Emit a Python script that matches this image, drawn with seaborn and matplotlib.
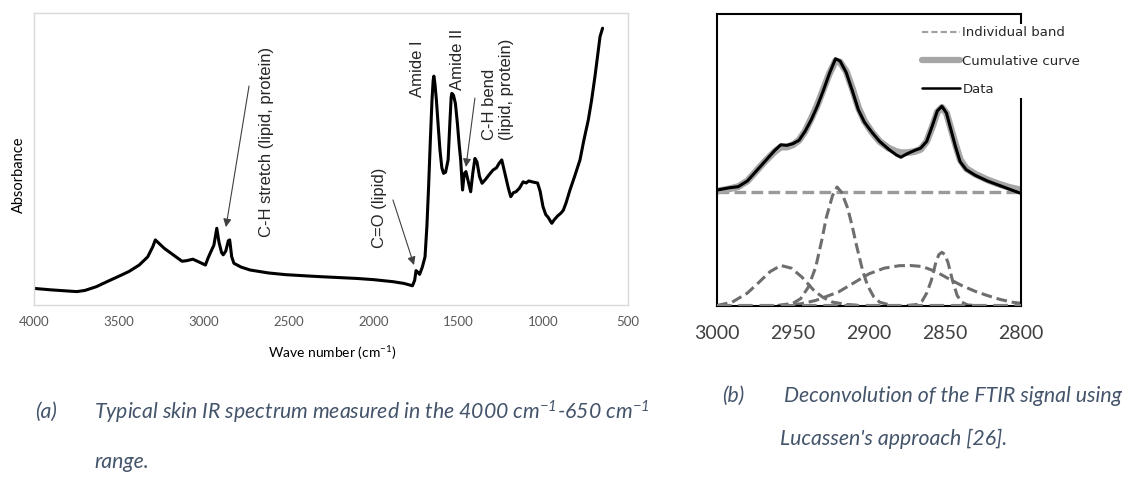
import matplotlib
matplotlib.use("Agg")
import matplotlib.pyplot as plt
from matplotlib.lines import Line2D
import seaborn as sns

# (a) skin IR spectrum
ir_wavenumber = [4000, 3900, 3800, 3748, 3700, 3632, 3570, 3506, 3440, 3380, 3330, 3300, 3285,
                 3265, 3232, 3180, 3128, 3100, 3064, 3030, 2990, 2975, 2960, 2940, 2923, 2910,
                 2895, 2885, 2870, 2855, 2847, 2835, 2822, 2780, 2727, 2620, 2517, 2400, 2307,
                 2200, 2097, 2000, 1885, 1820, 1770, 1757, 1749, 1738, 1728, 1712, 1696, 1685,
                 1675, 1665, 1655, 1648, 1644, 1638, 1629, 1618, 1608, 1597, 1587, 1575, 1560,
                 1550, 1542, 1538, 1528, 1517, 1505, 1495, 1486, 1475, 1465, 1455, 1440, 1427,
                 1415, 1402, 1390, 1375, 1360, 1340, 1320, 1296, 1275, 1260, 1244, 1225, 1205,
                 1191, 1175, 1160, 1140, 1118, 1100, 1085, 1066, 1050, 1033, 1018, 1001, 985,
                 970, 955, 949, 935, 915, 895, 881, 865, 842, 815, 783, 760, 734, 715, 695,
                 680, 665, 650]
ir_absorbance = [0.057, 0.052, 0.048, 0.046, 0.050, 0.063, 0.080, 0.097, 0.115, 0.137, 0.165,
                 0.200, 0.223, 0.212, 0.194, 0.172, 0.150, 0.152, 0.157, 0.148, 0.137, 0.160,
                 0.180, 0.205, 0.263, 0.215, 0.180, 0.172, 0.185, 0.220, 0.223, 0.165, 0.143,
                 0.130, 0.120, 0.110, 0.104, 0.100, 0.097, 0.094, 0.091, 0.087, 0.080, 0.074,
                 0.066, 0.085, 0.118, 0.112, 0.105, 0.130, 0.165, 0.270, 0.405, 0.560, 0.702,
                 0.770, 0.784, 0.760, 0.702, 0.610, 0.531, 0.470, 0.451, 0.455, 0.497, 0.620,
                 0.712, 0.725, 0.718, 0.690, 0.620, 0.550, 0.497, 0.394, 0.450, 0.457, 0.420,
                 0.388, 0.450, 0.502, 0.490, 0.440, 0.417, 0.430, 0.445, 0.462, 0.470, 0.485,
                 0.497, 0.450, 0.400, 0.371, 0.385, 0.388, 0.400, 0.422, 0.418, 0.425, 0.422,
                 0.420, 0.418, 0.390, 0.337, 0.310, 0.300, 0.285, 0.280, 0.292, 0.305, 0.315,
                 0.325, 0.350, 0.394, 0.440, 0.497, 0.565, 0.634, 0.700, 0.782, 0.850, 0.919,
                 0.948]
xticks_a = [4000, 3500, 3000, 2500, 2000, 1500, 1000, 500]

# (b) deconvolution of the C-H stretch region
data_wn = [3000, 2992, 2986, 2980, 2974, 2968, 2962, 2958, 2954, 2950, 2946, 2942, 2938, 2934,
           2930, 2926, 2922, 2919, 2915, 2911, 2907, 2903, 2898, 2893, 2887, 2882, 2879, 2875,
           2870, 2866, 2862, 2858, 2855, 2852, 2849, 2846, 2843, 2840, 2836, 2830, 2822, 2815,
           2808, 2800]
data_abs = [1.02, 1.04, 1.05, 1.10, 1.19, 1.28, 1.37, 1.42, 1.415, 1.43, 1.46, 1.54, 1.64, 1.76,
            1.90, 2.05, 2.18, 2.16, 2.06, 1.90, 1.73, 1.62, 1.53, 1.45, 1.38, 1.33, 1.31, 1.34,
            1.37, 1.39, 1.45, 1.60, 1.72, 1.76, 1.70, 1.55, 1.40, 1.27, 1.20, 1.15, 1.10, 1.065,
            1.03, 0.99]
cumul_abs = [1.01, 1.03, 1.05, 1.10, 1.19, 1.28, 1.36, 1.40, 1.40, 1.42, 1.46, 1.54, 1.65, 1.77,
             1.91, 2.05, 2.16, 2.15, 2.07, 1.92, 1.75, 1.63, 1.53, 1.45, 1.39, 1.36, 1.35, 1.35,
             1.36, 1.38, 1.45, 1.59, 1.71, 1.75, 1.70, 1.56, 1.42, 1.29, 1.21, 1.16, 1.11, 1.075,
             1.045, 1.02]
band_offset = 1.0

band1_wn = [3000, 2990, 2980, 2972, 2965, 2958, 2951, 2944, 2940, 2936, 2930, 2924, 2915, 2905]
band1_abs = [0.0, 0.03, 0.11, 0.21, 0.30, 0.354, 0.33, 0.25, 0.19, 0.13, 0.07, 0.03, 0.01, 0.0]

band2_wn = [2960, 2950, 2945, 2940, 2935, 2931, 2928, 2924, 2921, 2918, 2914, 2911, 2908, 2904,
            2901, 2897, 2893, 2885]
band2_abs = [0.0, 0.02, 0.06, 0.16, 0.34, 0.58, 0.78, 0.97, 1.047, 1.00, 0.86, 0.70, 0.52, 0.30,
             0.18, 0.08, 0.03, 0.0]

band3_wn = [2960, 2945, 2935, 2920, 2910, 2900, 2890, 2880, 2873, 2865, 2856, 2848, 2839, 2830,
            2822, 2814, 2806, 2800]
band3_abs = [0.0, 0.015, 0.045, 0.12, 0.20, 0.28, 0.33, 0.352, 0.354, 0.345, 0.30, 0.24, 0.177,
             0.125, 0.088, 0.055, 0.03, 0.02]

band4_wn = [2875, 2868, 2865, 2862, 2859, 2856, 2854, 2852, 2850, 2848, 2845, 2842, 2839, 2835,
            2828]
band4_abs = [0.0, 0.01, 0.04, 0.11, 0.22, 0.38, 0.45, 0.47, 0.45, 0.38, 0.22, 0.09, 0.03, 0.005,
             0.0]
xticks_b = [3000, 2950, 2900, 2850, 2800]

sns.set_theme(style="white")
plt.rcParams['font.family'] = ['Lato', 'DejaVu Sans']
plt.rcParams['mathtext.default'] = 'regular'

fig = plt.figure(figsize=(11.33, 4.96), dpi=100)

# ---- panel (a)
ax1 = fig.add_axes([0.030, 0.385, 0.5243, 0.5887])
sns.lineplot(x=ir_wavenumber, y=ir_absorbance, ax=ax1, color="black", lw=2.2,
             estimator=None, sort=False)
ax1.set_xlim(4000, 500)
ax1.set_ylim(0, 1)
ax1.set_xticks(xticks_a)
ax1.set_yticks([])
ax1.tick_params(axis='x', length=0, pad=8, labelsize=9.5, labelcolor='#595959')
for s in ax1.spines.values():
    s.set_color('#d9d9d9')
    s.set_linewidth(1)
ax1.text(0.502, -0.165, 'Wave number (cm$^{-1}$)', transform=ax1.transAxes,
         ha='center', va='center', fontsize=10, color='black')
ax1.text(-0.025, 0.445, 'Absorbance', transform=ax1.transAxes, rotation=90,
         ha='center', va='center', fontsize=10.5, color='black')

lab = dict(rotation=90, ha='center', va='bottom', fontsize=12, family='Liberation Sans')
arr = dict(arrowstyle='-|>', color='#404040', lw=0.8, mutation_scale=12, shrinkA=0, shrinkB=0)
ax1.text(2633, 0.233, 'C-H stretch (lipid, protein)', **lab)
ax1.annotate('', xy=(2869, 0.267), xytext=(2733, 0.75), arrowprops=arr)
ax1.text(1967, 0.195, 'C=O (lipid)', **lab)
ax1.annotate('', xy=(1761, 0.137), xytext=(1885, 0.36), arrowprops=arr)
ax1.text(1743, 0.712, 'Amide I', **lab)
ax1.text(1502, 0.736, 'Amide II', **lab)
ax1.text(1266, 0.565, 'C-H bend\n(lipid, protein)', multialignment='left', **lab)
ax1.annotate('', xy=(1455, 0.473), xytext=(1402, 0.709), arrowprops=arr)

# ---- panel (b)
ax2 = fig.add_axes([0.6328, 0.384, 0.2683, 0.5877])
band_style = dict(color='#6e6e6e', lw=2.2, dashes=(3.5, 1.6), estimator=None, sort=False)
ax2.axhline(band_offset, color='#9a9a9a', lw=2.4, dashes=(3.5, 1.6))
ax2.axhline(0, color='#808080', lw=3, dashes=(3.5, 1.6), zorder=3)
for bx, by in [(band1_wn, band1_abs), (band2_wn, band2_abs),
               (band3_wn, band3_abs), (band4_wn, band4_abs)]:
    sns.lineplot(x=bx, y=by, ax=ax2, **band_style)
sns.lineplot(x=data_wn, y=cumul_abs, ax=ax2, color='#a6a6a6', lw=5,
             estimator=None, sort=False)
sns.lineplot(x=data_wn, y=data_abs, ax=ax2, color='black', lw=2.2,
             estimator=None, sort=False)
ax2.set_xlim(3000, 2800)
ax2.set_ylim(0, 2.575)
ax2.set_xticks(xticks_b)
ax2.set_yticks([])
ax2.tick_params(axis='x', length=0, pad=14, labelsize=14, labelcolor='#404040')
for s in ax2.spines.values():
    s.set_color('black')
    s.set_linewidth(1.5)

handles = [Line2D([], [], color='#a0a0a0', lw=1.5, dashes=(3, 1.5)),
           Line2D([], [], color='#a6a6a6', lw=4.5),
           Line2D([], [], color='black', lw=1.8)]
leg = ax2.legend(handles, ['Individual band', 'Cumulative curve', 'Data'],
                 loc='upper left', bbox_to_anchor=(0.811, 0.952),
                 bbox_transform=fig.transFigure, frameon=True, facecolor='white',
                 edgecolor='none', framealpha=1, fancybox=False, borderpad=0.2,
                 borderaxespad=0, handlelength=2.9, handletextpad=0.2, labelspacing=1.15,
                 prop={'family': 'DejaVu Sans', 'size': 9.5})
leg.set_zorder(5)

# ---- captions
cap = dict(fontsize=15.3, style='italic', color='#44546a', va='center')
fig.text(35 / 1133, 1 - 412 / 496, '(a)', **cap)
fig.text(94 / 1133, 1 - 412 / 496,
         'Typical skin IR spectrum measured in the 4000 cm$^{-1}$-650 cm$^{-1}$', **cap)
fig.text(94 / 1133, 1 - 462 / 496, 'range.', **cap)
fig.text(722 / 1133, 1 - 396 / 496, '(b)', **cap)
fig.text(784 / 1133, 1 - 396 / 496, 'Deconvolution of the FTIR signal using', **cap)
fig.text(780 / 1133, 1 - 439 / 496, "Lucassen's approach [26].", **cap)

fig.savefig('out.png', dpi=100)
